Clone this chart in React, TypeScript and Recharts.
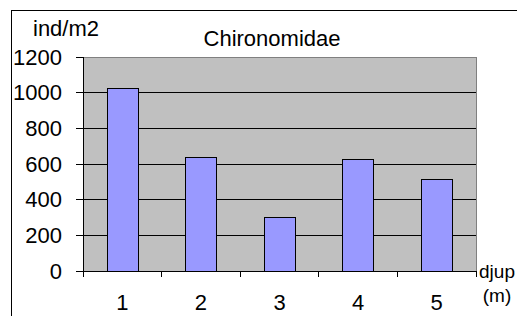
import React from 'react';
import { BarChart, Bar, XAxis, YAxis, CartesianGrid, ReferenceLine } from 'recharts';

const depths = [1, 2, 3, 4, 5];
const density = [1025, 635, 300, 625, 515];
const yTicks = [0, 200, 400, 600, 800, 1000, 1200];

const chartTitle = 'Chironomidae';
const yUnit = 'ind/m2';
const xUnitLines = ['djup', '(m)'];

const FONT = '"Liberation Sans", Arial, sans-serif';

const data = depths.map((d, i) => ({ depth: d, value: density[i] }));

// category boundaries get tick marks, category centres get labels
const xTicks = [depths[0] - 0.5, ...depths.flatMap(d => [d, d + 0.5])];

const DepthTick = (props: any) => {
  const { x, y, payload } = props;
  const v = payload.value as number;
  if (Number.isInteger(v)) {
    return (
      <text x={x} y={y + 39} textAnchor="middle" fontSize={22} fontFamily={FONT} fill="#000">
        {v}
      </text>
    );
  }
  return <line x1={x} x2={x} y1={y} y2={y + 6} stroke="#000" shapeRendering="crispEdges" />;
};

export default function App() {
  return (
    <div style={{ position: 'absolute', left: 0, top: 0, width: 517, height: 316, background: '#fff' }}>
      <BarChart
        width={517}
        height={316}
        data={data}
        margin={{ top: 57, right: 41, bottom: 15, left: 0 }}
      >
        <CartesianGrid fill="#c0c0c0" stroke="#000" vertical={false} shapeRendering="crispEdges" />
        <XAxis
          type="number"
          dataKey="depth"
          domain={[0.5, 5.5]}
          ticks={xTicks}
          interval={0}
          height={30}
          tickLine={false}
          tickSize={0}
          tickMargin={0}
          axisLine={{ stroke: '#000', shapeRendering: 'crispEdges' }}
          tick={<DepthTick />}
        />
        <YAxis
          width={83}
          domain={[0, 1200]}
          ticks={yTicks}
          interval={0}
          tickSize={7}
          tickMargin={14}
          axisLine={{ stroke: '#000', shapeRendering: 'crispEdges' }}
          tickLine={{ stroke: '#000', shapeRendering: 'crispEdges' }}
          tick={{ fill: '#000', fontSize: 22, fontFamily: FONT }}
        />
        <ReferenceLine y={1200} stroke="#808080" shapeRendering="crispEdges" />
        <ReferenceLine x={5.5} stroke="#808080" shapeRendering="crispEdges" />
        <Bar
          dataKey="value"
          barSize={31}
          fill="#9999ff"
          stroke="#000"
          strokeWidth={1}
          shapeRendering="crispEdges"
          isAnimationActive={false}
        />
      </BarChart>
      <svg
        width={517}
        height={316}
        style={{ position: 'absolute', left: 0, top: 0, pointerEvents: 'none' }}
      >
        <rect x={11.5} y={10.5} width={600} height={400} fill="none" stroke="#000" />
        <text x={33} y={36} fontSize={22} fontFamily={FONT} fill="#000">{yUnit}</text>
        <text x={272} y={46} textAnchor="middle" fontSize={22} fontFamily={FONT} fill="#000">
          {chartTitle}
        </text>
        <text x={497} y={278} textAnchor="middle" fontSize={19} fontFamily={FONT} fill="#000">
          {xUnitLines[0]}
        </text>
        <text x={497} y={302} textAnchor="middle" fontSize={19} fontFamily={FONT} fill="#000">
          {xUnitLines[1]}
        </text>
      </svg>
    </div>
  );
}
